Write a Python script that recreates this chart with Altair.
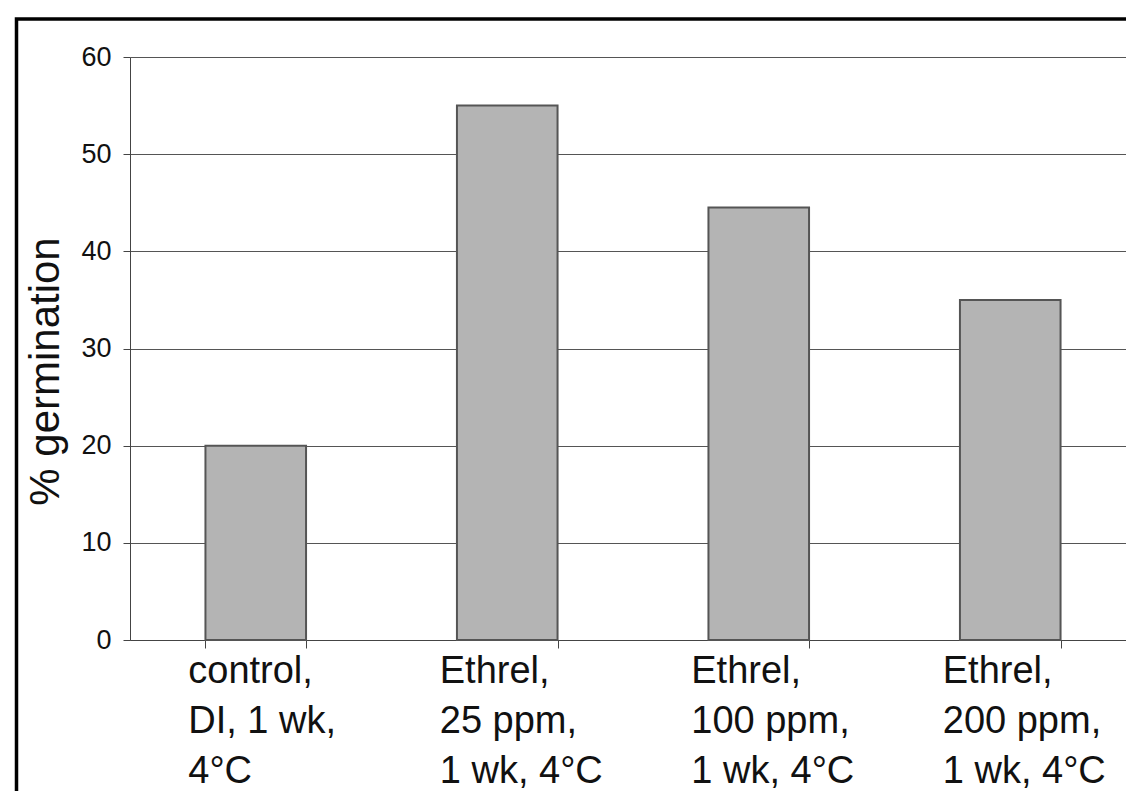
import altair as alt
import pandas as pd

categories = [
    "control,\nDI, 1 wk,\n4°C",
    "Ethrel,\n25 ppm,\n1 wk, 4°C",
    "Ethrel,\n100 ppm,\n1 wk, 4°C",
    "Ethrel,\n200 ppm,\n1 wk, 4°C",
]
germination = [20, 55, 44.5, 35]
y_ticks = [0, 10, 20, 30, 40, 50, 60]

df = pd.DataFrame({"treatment": categories, "germination": germination})

FONT = "Liberation Sans"

bars = alt.Chart(df).mark_bar(fill="#b4b4b4", stroke="#555555", strokeWidth=2).encode(
    x=alt.X(
        "treatment:N",
        sort=categories,
        scale=alt.Scale(paddingInner=0.6, paddingOuter=0.3, range=[0, 1006]),
        axis=alt.Axis(
            title=None,
            labelAngle=0,
            labelExpr="split(datum.label, '\\n')",
            labelAlign="left",
            labelOffset=-68,
            labelBaseline="top",
            labelFont=FONT,
            labelFontSize=38,
            labelLineHeight=50,
            labelPadding=4,
            labelColor="#111111",
            labelOverlap=False,
            labelLimit=0,
            tickBand="extent",
            tickSize=8,
            tickColor="#444444",
            domainColor="#444444",
            grid=False,
        ),
    ),
    y=alt.Y(
        "germination:Q",
        scale=alt.Scale(domain=[0, 60]),
        axis=alt.Axis(
            values=y_ticks,
            title="% germination",
            titleFont=FONT,
            titleFontSize=42,
            titleFontWeight="normal",
            titleColor="#111111",
            titleX=-72,
            titleY=314,
            titleBaseline="alphabetic",
            labelFont=FONT,
            labelFontSize=27,
            labelColor="#111111",
            labelPadding=12,
            tickSize=7,
            tickColor="#444444",
            domainColor="#444444",
            gridColor="#555555",
            gridWidth=1.2,
        ),
    ),
)

border = alt.Chart(alt.Data(values=[{}])).mark_rect(
    fillOpacity=0, stroke="black", strokeWidth=3.5
).encode(
    x=alt.value(-113.5), x2=alt.value(1030), y=alt.value(-38), y2=alt.value(800)
)

chart = alt.layer(bars, border).properties(
    width=996,
    height=583,
    autosize=alt.AutoSizeParams(type="none"),
    padding={"left": 122, "top": 49, "right": 0, "bottom": 151},
    background="white",
).configure_view(strokeWidth=0)

chart.save("out.html", embed_options={"renderer": "svg", "actions": False})
